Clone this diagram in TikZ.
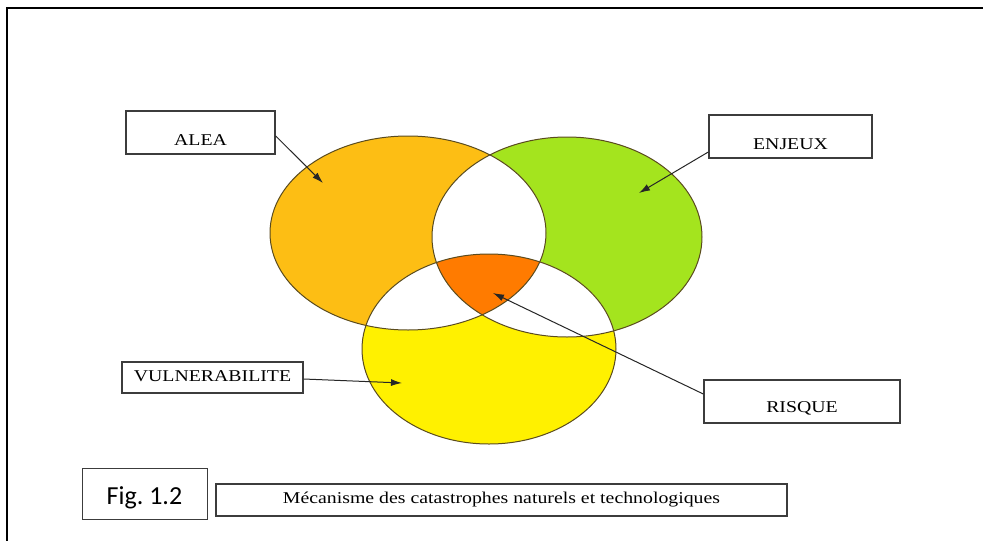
\documentclass[tikz,border=0pt]{standalone}
\usepackage{fontspec}
\setmainfont{Liberation Serif}
\newfontfamily\tnrfont[FakeStretch=1.2]{Liberation Serif}
\newfontfamily\figfont{Carlito}
\usetikzlibrary{arrows.meta,calc}
\definecolor{aleaC}{RGB}{253,190,20}
\definecolor{enjC}{RGB}{164,228,30}
\definecolor{vulC}{RGB}{255,241,0}
\definecolor{risC}{RGB}{255,123,0}
\definecolor{edgeC}{RGB}{90,75,30}
\definecolor{boxC}{RGB}{60,60,60}
\newcommand{\lowr}[2]{\raisebox{#1}[\height][\depth]{#2}}
\tikzset{
  lbox/.style={draw=boxC,line width=1.4pt,fill=white,inner sep=0pt,
    font=\tnrfont\fontsize{16.5}{18}\selectfont},
  ptr/.style={draw=black!85,line width=1pt,-{Latex[length=11pt,width=7pt]}},
  venn/.style={draw=edgeC,line width=1pt}
}
\begin{document}
\begin{tikzpicture}[x=1pt,y=-1pt]
\useasboundingbox (0,0) rectangle (983,541);
% frame (top and left edges)
\draw[line width=2.6pt] (7,541) -- (7,8) -- (983,8);
% ellipses
\def\ea{(408,233) ellipse [x radius=138,y radius=97]}
\def\eb{(567,237) ellipse [x radius=135,y radius=100]}
\def\ec{(489,349) ellipse [x radius=127,y radius=95]}
\fill[aleaC] \ea;
\fill[enjC] \eb;
\fill[vulC] \ec;
\begin{scope}\clip \ea; \fill[white] \eb; \fill[white] \ec; \end{scope}
\begin{scope}\clip \eb; \fill[white] \ec; \end{scope}
\begin{scope}\clip \ea; \clip \eb; \fill[risC] \ec; \end{scope}
\draw[venn] \ea; \draw[venn] \eb; \draw[venn] \ec;
% boxes
\node[lbox,minimum width=149,minimum height=43] (alea) at (200.5,132.5) {\lowr{-8pt}{ALEA}};
\node[lbox,minimum width=163,minimum height=43] (enj) at (790.5,136.5) {\lowr{-8pt}{ENJEUX}};
\node[lbox,minimum width=181,minimum height=31] (vul) at (212.5,377.5) {\lowr{1pt}{VULNERABILITE}};
\node[lbox,minimum width=196,minimum height=43] (ris) at (802,401.5) {\lowr{-7pt}{RISQUE}};
\node[draw=boxC,line width=1pt,minimum width=125,minimum height=51,inner sep=0pt,
  font=\figfont\fontsize{26}{30}\selectfont] (fig) at (144.5,493.5) {\lowr{-4pt}{Fig.\ 1.2}};
\node[lbox,minimum width=571,minimum height=32] (cap) at (501.5,500) {Mécanisme des catastrophes naturels et technologiques};
% pointer tips
\coordinate (taleA) at (323,183);
\coordinate (tenj) at (639,193);
\coordinate (tvul) at (402,383);
\coordinate (tris) at (493,293);
\draw[ptr] ($(alea.east)+(0,3.5)$) -- (taleA);
\draw[ptr] ($(enj.west)+(0,15.5)$) -- (tenj);
\draw[ptr] ($(vul.east)+(0,1.5)$) -- (tvul);
\draw[ptr] ($(ris.west)+(0,-7.5)$) -- (tris);
\end{tikzpicture}
\end{document}
